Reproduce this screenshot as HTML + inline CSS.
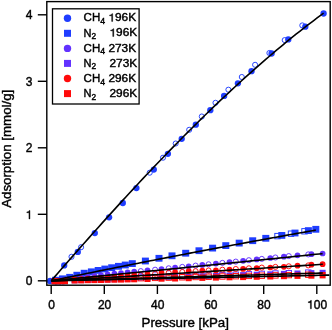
<!DOCTYPE html>
<html><head><meta charset="utf-8"><style>
html,body{margin:0;padding:0;background:#fff;width:332px;height:330px;overflow:hidden}
svg{display:block;will-change:transform}
text{font-family:'Liberation Sans',sans-serif;fill:#000;stroke:#000;stroke-width:0.4px}
</style></head><body>
<svg width="332" height="330" viewBox="0 0 332 330">
<rect x="0" y="0" width="332" height="330" fill="#fff"/>
<defs><clipPath id="pc"><rect x="47" y="2" width="282.6" height="282.6"/></clipPath></defs>
<g clip-path="url(#pc)">
<circle cx="71.5" cy="256.8" r="2.55" fill="none" stroke="#1f3dff" stroke-width="0.95"/>
<circle cx="81.1" cy="247.2" r="2.55" fill="none" stroke="#1f3dff" stroke-width="0.95"/>
<circle cx="149.7" cy="172.7" r="2.55" fill="none" stroke="#1f3dff" stroke-width="0.95"/>
<circle cx="163.0" cy="157.7" r="2.55" fill="none" stroke="#1f3dff" stroke-width="0.95"/>
<circle cx="175.7" cy="143.5" r="2.55" fill="none" stroke="#1f3dff" stroke-width="0.95"/>
<circle cx="189.2" cy="129.8" r="2.55" fill="none" stroke="#1f3dff" stroke-width="0.95"/>
<circle cx="201.8" cy="116.5" r="2.55" fill="none" stroke="#1f3dff" stroke-width="0.95"/>
<circle cx="215.5" cy="102.8" r="2.55" fill="none" stroke="#1f3dff" stroke-width="0.95"/>
<circle cx="228.4" cy="89.7" r="2.55" fill="none" stroke="#1f3dff" stroke-width="0.95"/>
<circle cx="241.8" cy="77.0" r="2.55" fill="none" stroke="#1f3dff" stroke-width="0.95"/>
<circle cx="255.1" cy="64.8" r="2.55" fill="none" stroke="#1f3dff" stroke-width="0.95"/>
<circle cx="269.4" cy="53.0" r="2.55" fill="none" stroke="#1f3dff" stroke-width="0.95"/>
<circle cx="284.7" cy="40.1" r="2.55" fill="none" stroke="#1f3dff" stroke-width="0.95"/>
<circle cx="302.3" cy="25.4" r="2.55" fill="none" stroke="#1f3dff" stroke-width="0.95"/>
<circle cx="50.0" cy="281.0" r="3.15" fill="#1f3dff"/>
<circle cx="64.2" cy="265.4" r="3.15" fill="#1f3dff"/>
<circle cx="77.8" cy="251.9" r="3.15" fill="#1f3dff"/>
<circle cx="94.8" cy="233.1" r="3.15" fill="#1f3dff"/>
<circle cx="109.1" cy="217.3" r="3.15" fill="#1f3dff"/>
<circle cx="122.8" cy="203.0" r="3.15" fill="#1f3dff"/>
<circle cx="136.4" cy="188.1" r="3.15" fill="#1f3dff"/>
<circle cx="153.8" cy="169.6" r="3.15" fill="#1f3dff"/>
<circle cx="167.9" cy="153.8" r="3.15" fill="#1f3dff"/>
<circle cx="181.7" cy="138.8" r="3.15" fill="#1f3dff"/>
<circle cx="195.8" cy="124.7" r="3.15" fill="#1f3dff"/>
<circle cx="210.3" cy="110.2" r="3.15" fill="#1f3dff"/>
<circle cx="224.1" cy="95.9" r="3.15" fill="#1f3dff"/>
<circle cx="237.9" cy="83.3" r="3.15" fill="#1f3dff"/>
<circle cx="251.5" cy="71.2" r="3.15" fill="#1f3dff"/>
<circle cx="271.6" cy="53.5" r="3.15" fill="#1f3dff"/>
<circle cx="288.3" cy="39.4" r="3.15" fill="#1f3dff"/>
<circle cx="305.3" cy="26.7" r="3.15" fill="#1f3dff"/>
<circle cx="323.6" cy="13.5" r="3.15" fill="#1f3dff"/>
<rect x="274.8" y="233.4" width="5.4" height="5.4" fill="none" stroke="#1f3dff" stroke-width="0.95"/>
<rect x="288.3" y="231.0" width="5.4" height="5.4" fill="none" stroke="#1f3dff" stroke-width="0.95"/>
<rect x="301.8" y="228.6" width="5.4" height="5.4" fill="none" stroke="#1f3dff" stroke-width="0.95"/>
<rect x="52.0" y="276.8" width="7.0" height="6.8" fill="#1f3dff"/>
<rect x="59.0" y="275.4" width="7.0" height="6.8" fill="#1f3dff"/>
<rect x="66.2" y="273.9" width="7.0" height="6.8" fill="#1f3dff"/>
<rect x="73.4" y="271.8" width="7.0" height="6.8" fill="#1f3dff"/>
<rect x="80.7" y="269.8" width="7.0" height="6.8" fill="#1f3dff"/>
<rect x="87.9" y="268.4" width="7.0" height="6.8" fill="#1f3dff"/>
<rect x="94.7" y="267.0" width="7.0" height="6.8" fill="#1f3dff"/>
<rect x="101.4" y="265.6" width="7.0" height="6.8" fill="#1f3dff"/>
<rect x="108.2" y="264.3" width="7.0" height="6.8" fill="#1f3dff"/>
<rect x="115.0" y="262.9" width="7.0" height="6.8" fill="#1f3dff"/>
<rect x="121.8" y="261.6" width="7.0" height="6.8" fill="#1f3dff"/>
<rect x="128.8" y="260.2" width="7.0" height="6.8" fill="#1f3dff"/>
<rect x="141.9" y="257.6" width="7.0" height="6.8" fill="#1f3dff"/>
<rect x="155.5" y="254.9" width="7.0" height="6.8" fill="#1f3dff"/>
<rect x="168.5" y="252.4" width="7.0" height="6.8" fill="#1f3dff"/>
<rect x="182.2" y="249.8" width="7.0" height="6.8" fill="#1f3dff"/>
<rect x="195.5" y="247.3" width="7.0" height="6.8" fill="#1f3dff"/>
<rect x="209.1" y="244.7" width="7.0" height="6.8" fill="#1f3dff"/>
<rect x="222.3" y="242.2" width="7.0" height="6.8" fill="#1f3dff"/>
<rect x="235.7" y="239.7" width="7.0" height="6.8" fill="#1f3dff"/>
<rect x="249.2" y="237.3" width="7.0" height="6.8" fill="#1f3dff"/>
<rect x="262.3" y="234.9" width="7.0" height="6.8" fill="#1f3dff"/>
<rect x="278.3" y="232.0" width="7.0" height="6.8" fill="#1f3dff"/>
<rect x="291.5" y="229.6" width="7.0" height="6.8" fill="#1f3dff"/>
<rect x="304.9" y="227.2" width="7.0" height="6.8" fill="#1f3dff"/>
<rect x="312.3" y="225.9" width="7.0" height="6.8" fill="#1f3dff"/>
<circle cx="140.8" cy="271.1" r="2.55" fill="none" stroke="#6232ff" stroke-width="0.95"/>
<circle cx="155.1" cy="269.7" r="2.55" fill="none" stroke="#6232ff" stroke-width="0.95"/>
<circle cx="168.7" cy="268.3" r="2.55" fill="none" stroke="#6232ff" stroke-width="0.95"/>
<circle cx="182.3" cy="266.9" r="2.55" fill="none" stroke="#6232ff" stroke-width="0.95"/>
<circle cx="195.6" cy="265.6" r="2.55" fill="none" stroke="#6232ff" stroke-width="0.95"/>
<circle cx="208.6" cy="264.3" r="2.55" fill="none" stroke="#6232ff" stroke-width="0.95"/>
<circle cx="222.4" cy="262.9" r="2.55" fill="none" stroke="#6232ff" stroke-width="0.95"/>
<circle cx="235.8" cy="261.6" r="2.55" fill="none" stroke="#6232ff" stroke-width="0.95"/>
<circle cx="248.9" cy="260.2" r="2.55" fill="none" stroke="#6232ff" stroke-width="0.95"/>
<circle cx="261.8" cy="258.9" r="2.55" fill="none" stroke="#6232ff" stroke-width="0.95"/>
<circle cx="275.4" cy="257.5" r="2.55" fill="none" stroke="#6232ff" stroke-width="0.95"/>
<circle cx="288.8" cy="256.1" r="2.55" fill="none" stroke="#6232ff" stroke-width="0.95"/>
<circle cx="308.3" cy="254.4" r="2.55" fill="none" stroke="#6232ff" stroke-width="0.95"/>
<circle cx="54.5" cy="280.9" r="2.85" fill="#6232ff"/>
<circle cx="58.0" cy="280.5" r="2.85" fill="#6232ff"/>
<circle cx="61.5" cy="280.1" r="2.85" fill="#6232ff"/>
<circle cx="65.0" cy="279.7" r="2.85" fill="#6232ff"/>
<circle cx="74.6" cy="278.1" r="2.85" fill="#6232ff"/>
<circle cx="81.2" cy="277.3" r="2.85" fill="#6232ff"/>
<circle cx="87.8" cy="276.6" r="2.85" fill="#6232ff"/>
<circle cx="94.4" cy="275.8" r="2.85" fill="#6232ff"/>
<circle cx="101.0" cy="275.1" r="2.85" fill="#6232ff"/>
<circle cx="107.6" cy="274.4" r="2.85" fill="#6232ff"/>
<circle cx="114.4" cy="273.7" r="2.85" fill="#6232ff"/>
<circle cx="121.0" cy="273.0" r="2.85" fill="#6232ff"/>
<circle cx="127.6" cy="272.4" r="2.85" fill="#6232ff"/>
<circle cx="134.2" cy="271.7" r="2.85" fill="#6232ff"/>
<circle cx="147.5" cy="270.4" r="2.85" fill="#6232ff"/>
<circle cx="161.5" cy="269.0" r="2.85" fill="#6232ff"/>
<circle cx="175.1" cy="267.7" r="2.85" fill="#6232ff"/>
<circle cx="188.7" cy="266.3" r="2.85" fill="#6232ff"/>
<circle cx="202.3" cy="264.9" r="2.85" fill="#6232ff"/>
<circle cx="215.9" cy="263.6" r="2.85" fill="#6232ff"/>
<circle cx="229.5" cy="262.2" r="2.85" fill="#6232ff"/>
<circle cx="243.1" cy="260.8" r="2.85" fill="#6232ff"/>
<circle cx="256.7" cy="259.4" r="2.85" fill="#6232ff"/>
<circle cx="270.3" cy="258.0" r="2.85" fill="#6232ff"/>
<circle cx="283.9" cy="256.7" r="2.85" fill="#6232ff"/>
<circle cx="297.5" cy="255.3" r="2.85" fill="#6232ff"/>
<circle cx="311.4" cy="254.2" r="2.85" fill="#6232ff"/>
<circle cx="322.6" cy="253.5" r="2.85" fill="#6232ff"/>
<rect x="138.1" y="274.7" width="5.4" height="5.4" fill="none" stroke="#6232ff" stroke-width="0.95"/>
<rect x="152.4" y="274.3" width="5.4" height="5.4" fill="none" stroke="#6232ff" stroke-width="0.95"/>
<rect x="166.0" y="273.9" width="5.4" height="5.4" fill="none" stroke="#6232ff" stroke-width="0.95"/>
<rect x="179.6" y="273.5" width="5.4" height="5.4" fill="none" stroke="#6232ff" stroke-width="0.95"/>
<rect x="192.9" y="273.1" width="5.4" height="5.4" fill="none" stroke="#6232ff" stroke-width="0.95"/>
<rect x="205.9" y="272.8" width="5.4" height="5.4" fill="none" stroke="#6232ff" stroke-width="0.95"/>
<rect x="219.7" y="272.4" width="5.4" height="5.4" fill="none" stroke="#6232ff" stroke-width="0.95"/>
<rect x="233.1" y="272.0" width="5.4" height="5.4" fill="none" stroke="#6232ff" stroke-width="0.95"/>
<rect x="246.2" y="271.6" width="5.4" height="5.4" fill="none" stroke="#6232ff" stroke-width="0.95"/>
<rect x="259.1" y="271.2" width="5.4" height="5.4" fill="none" stroke="#6232ff" stroke-width="0.95"/>
<rect x="272.7" y="270.8" width="5.4" height="5.4" fill="none" stroke="#6232ff" stroke-width="0.95"/>
<rect x="286.1" y="270.5" width="5.4" height="5.4" fill="none" stroke="#6232ff" stroke-width="0.95"/>
<rect x="305.6" y="269.9" width="5.4" height="5.4" fill="none" stroke="#6232ff" stroke-width="0.95"/>
<rect x="51.5" y="278.2" width="6.0" height="6.4" fill="#6232ff"/>
<rect x="55.0" y="278.1" width="6.0" height="6.4" fill="#6232ff"/>
<rect x="58.5" y="278.0" width="6.0" height="6.4" fill="#6232ff"/>
<rect x="62.0" y="277.9" width="6.0" height="6.4" fill="#6232ff"/>
<rect x="71.6" y="276.9" width="6.0" height="6.4" fill="#6232ff"/>
<rect x="78.2" y="276.7" width="6.0" height="6.4" fill="#6232ff"/>
<rect x="84.8" y="276.5" width="6.0" height="6.4" fill="#6232ff"/>
<rect x="91.4" y="276.4" width="6.0" height="6.4" fill="#6232ff"/>
<rect x="98.0" y="276.2" width="6.0" height="6.4" fill="#6232ff"/>
<rect x="104.6" y="276.0" width="6.0" height="6.4" fill="#6232ff"/>
<rect x="111.4" y="275.8" width="6.0" height="6.4" fill="#6232ff"/>
<rect x="118.0" y="275.6" width="6.0" height="6.4" fill="#6232ff"/>
<rect x="124.6" y="275.4" width="6.0" height="6.4" fill="#6232ff"/>
<rect x="131.2" y="275.2" width="6.0" height="6.4" fill="#6232ff"/>
<rect x="144.5" y="274.8" width="6.0" height="6.4" fill="#6232ff"/>
<rect x="158.5" y="274.4" width="6.0" height="6.4" fill="#6232ff"/>
<rect x="172.1" y="274.0" width="6.0" height="6.4" fill="#6232ff"/>
<rect x="185.7" y="273.6" width="6.0" height="6.4" fill="#6232ff"/>
<rect x="199.3" y="273.2" width="6.0" height="6.4" fill="#6232ff"/>
<rect x="212.9" y="272.9" width="6.0" height="6.4" fill="#6232ff"/>
<rect x="226.5" y="272.5" width="6.0" height="6.4" fill="#6232ff"/>
<rect x="240.1" y="272.1" width="6.0" height="6.4" fill="#6232ff"/>
<rect x="253.7" y="271.7" width="6.0" height="6.4" fill="#6232ff"/>
<rect x="267.3" y="271.3" width="6.0" height="6.4" fill="#6232ff"/>
<rect x="280.9" y="270.9" width="6.0" height="6.4" fill="#6232ff"/>
<rect x="294.5" y="270.5" width="6.0" height="6.4" fill="#6232ff"/>
<rect x="308.4" y="270.1" width="6.0" height="6.4" fill="#6232ff"/>
<rect x="319.6" y="269.8" width="6.0" height="6.4" fill="#6232ff"/>
<circle cx="140.8" cy="275.1" r="2.55" fill="none" stroke="#ff0a0a" stroke-width="0.95"/>
<circle cx="155.1" cy="273.8" r="2.55" fill="none" stroke="#ff0a0a" stroke-width="0.95"/>
<circle cx="168.7" cy="272.9" r="2.55" fill="none" stroke="#ff0a0a" stroke-width="0.95"/>
<circle cx="182.3" cy="272.0" r="2.55" fill="none" stroke="#ff0a0a" stroke-width="0.95"/>
<circle cx="195.6" cy="271.2" r="2.55" fill="none" stroke="#ff0a0a" stroke-width="0.95"/>
<circle cx="208.6" cy="270.5" r="2.55" fill="none" stroke="#ff0a0a" stroke-width="0.95"/>
<circle cx="222.4" cy="269.7" r="2.55" fill="none" stroke="#ff0a0a" stroke-width="0.95"/>
<circle cx="235.8" cy="269.0" r="2.55" fill="none" stroke="#ff0a0a" stroke-width="0.95"/>
<circle cx="248.9" cy="268.3" r="2.55" fill="none" stroke="#ff0a0a" stroke-width="0.95"/>
<circle cx="261.8" cy="267.6" r="2.55" fill="none" stroke="#ff0a0a" stroke-width="0.95"/>
<circle cx="275.4" cy="266.9" r="2.55" fill="none" stroke="#ff0a0a" stroke-width="0.95"/>
<circle cx="288.8" cy="266.3" r="2.55" fill="none" stroke="#ff0a0a" stroke-width="0.95"/>
<circle cx="308.3" cy="265.4" r="2.55" fill="none" stroke="#ff0a0a" stroke-width="0.95"/>
<circle cx="54.5" cy="281.4" r="2.85" fill="#ff0a0a"/>
<circle cx="58.0" cy="281.2" r="2.85" fill="#ff0a0a"/>
<circle cx="61.5" cy="281.0" r="2.85" fill="#ff0a0a"/>
<circle cx="65.0" cy="280.8" r="2.85" fill="#ff0a0a"/>
<circle cx="74.6" cy="279.5" r="2.85" fill="#ff0a0a"/>
<circle cx="81.2" cy="279.1" r="2.85" fill="#ff0a0a"/>
<circle cx="87.8" cy="278.7" r="2.85" fill="#ff0a0a"/>
<circle cx="94.4" cy="278.3" r="2.85" fill="#ff0a0a"/>
<circle cx="101.0" cy="277.9" r="2.85" fill="#ff0a0a"/>
<circle cx="107.6" cy="277.5" r="2.85" fill="#ff0a0a"/>
<circle cx="114.4" cy="276.9" r="2.85" fill="#ff0a0a"/>
<circle cx="121.0" cy="276.4" r="2.85" fill="#ff0a0a"/>
<circle cx="127.6" cy="275.8" r="2.85" fill="#ff0a0a"/>
<circle cx="134.2" cy="275.2" r="2.85" fill="#ff0a0a"/>
<circle cx="147.5" cy="274.0" r="2.85" fill="#ff0a0a"/>
<circle cx="161.5" cy="272.8" r="2.85" fill="#ff0a0a"/>
<circle cx="175.1" cy="272.0" r="2.85" fill="#ff0a0a"/>
<circle cx="188.7" cy="271.1" r="2.85" fill="#ff0a0a"/>
<circle cx="202.3" cy="270.6" r="2.85" fill="#ff0a0a"/>
<circle cx="215.9" cy="270.4" r="2.85" fill="#ff0a0a"/>
<circle cx="229.5" cy="269.6" r="2.85" fill="#ff0a0a"/>
<circle cx="243.1" cy="268.9" r="2.85" fill="#ff0a0a"/>
<circle cx="256.7" cy="268.2" r="2.85" fill="#ff0a0a"/>
<circle cx="270.3" cy="267.5" r="2.85" fill="#ff0a0a"/>
<circle cx="283.9" cy="266.8" r="2.85" fill="#ff0a0a"/>
<circle cx="297.5" cy="265.7" r="2.85" fill="#ff0a0a"/>
<circle cx="311.4" cy="264.7" r="2.85" fill="#ff0a0a"/>
<circle cx="322.6" cy="264.2" r="2.85" fill="#ff0a0a"/>
<rect x="138.1" y="275.5" width="5.4" height="5.4" fill="none" stroke="#ff0a0a" stroke-width="0.95"/>
<rect x="152.4" y="275.2" width="5.4" height="5.4" fill="none" stroke="#ff0a0a" stroke-width="0.95"/>
<rect x="166.0" y="274.9" width="5.4" height="5.4" fill="none" stroke="#ff0a0a" stroke-width="0.95"/>
<rect x="179.6" y="274.6" width="5.4" height="5.4" fill="none" stroke="#ff0a0a" stroke-width="0.95"/>
<rect x="192.9" y="274.3" width="5.4" height="5.4" fill="none" stroke="#ff0a0a" stroke-width="0.95"/>
<rect x="205.9" y="274.1" width="5.4" height="5.4" fill="none" stroke="#ff0a0a" stroke-width="0.95"/>
<rect x="219.7" y="273.8" width="5.4" height="5.4" fill="none" stroke="#ff0a0a" stroke-width="0.95"/>
<rect x="233.1" y="273.5" width="5.4" height="5.4" fill="none" stroke="#ff0a0a" stroke-width="0.95"/>
<rect x="246.2" y="273.2" width="5.4" height="5.4" fill="none" stroke="#ff0a0a" stroke-width="0.95"/>
<rect x="259.1" y="273.0" width="5.4" height="5.4" fill="none" stroke="#ff0a0a" stroke-width="0.95"/>
<rect x="272.7" y="272.7" width="5.4" height="5.4" fill="none" stroke="#ff0a0a" stroke-width="0.95"/>
<rect x="286.1" y="272.4" width="5.4" height="5.4" fill="none" stroke="#ff0a0a" stroke-width="0.95"/>
<rect x="305.6" y="272.0" width="5.4" height="5.4" fill="none" stroke="#ff0a0a" stroke-width="0.95"/>
<rect x="51.5" y="278.2" width="6.0" height="6.4" fill="#ff0a0a"/>
<rect x="55.0" y="278.2" width="6.0" height="6.4" fill="#ff0a0a"/>
<rect x="58.5" y="278.1" width="6.0" height="6.4" fill="#ff0a0a"/>
<rect x="62.0" y="278.0" width="6.0" height="6.4" fill="#ff0a0a"/>
<rect x="71.6" y="277.1" width="6.0" height="6.4" fill="#ff0a0a"/>
<rect x="78.2" y="277.0" width="6.0" height="6.4" fill="#ff0a0a"/>
<rect x="84.8" y="276.8" width="6.0" height="6.4" fill="#ff0a0a"/>
<rect x="91.4" y="276.7" width="6.0" height="6.4" fill="#ff0a0a"/>
<rect x="98.0" y="276.6" width="6.0" height="6.4" fill="#ff0a0a"/>
<rect x="104.6" y="276.4" width="6.0" height="6.4" fill="#ff0a0a"/>
<rect x="111.4" y="276.3" width="6.0" height="6.4" fill="#ff0a0a"/>
<rect x="118.0" y="276.2" width="6.0" height="6.4" fill="#ff0a0a"/>
<rect x="124.6" y="276.0" width="6.0" height="6.4" fill="#ff0a0a"/>
<rect x="131.2" y="275.9" width="6.0" height="6.4" fill="#ff0a0a"/>
<rect x="144.5" y="275.6" width="6.0" height="6.4" fill="#ff0a0a"/>
<rect x="158.5" y="275.3" width="6.0" height="6.4" fill="#ff0a0a"/>
<rect x="172.1" y="275.1" width="6.0" height="6.4" fill="#ff0a0a"/>
<rect x="185.7" y="274.8" width="6.0" height="6.4" fill="#ff0a0a"/>
<rect x="199.3" y="274.5" width="6.0" height="6.4" fill="#ff0a0a"/>
<rect x="212.9" y="274.2" width="6.0" height="6.4" fill="#ff0a0a"/>
<rect x="226.5" y="273.9" width="6.0" height="6.4" fill="#ff0a0a"/>
<rect x="240.1" y="273.7" width="6.0" height="6.4" fill="#ff0a0a"/>
<rect x="253.7" y="273.4" width="6.0" height="6.4" fill="#ff0a0a"/>
<rect x="267.3" y="273.1" width="6.0" height="6.4" fill="#ff0a0a"/>
<rect x="280.9" y="272.8" width="6.0" height="6.4" fill="#ff0a0a"/>
<rect x="294.5" y="272.5" width="6.0" height="6.4" fill="#ff0a0a"/>
<rect x="308.4" y="272.3" width="6.0" height="6.4" fill="#ff0a0a"/>
<rect x="319.6" y="272.0" width="6.0" height="6.4" fill="#ff0a0a"/>
<polyline points="51.20,280.80 54.61,276.87 58.01,272.96 61.42,269.05 64.82,265.15 68.23,261.25 71.63,257.37 75.04,253.50 78.44,249.64 81.85,245.78 85.25,241.94 88.66,238.11 92.06,234.28 95.47,230.47 98.87,226.67 102.28,222.89 105.68,219.11 109.09,215.34 112.49,211.59 115.90,207.85 119.30,204.12 122.71,200.41 126.11,196.71 129.52,193.02 132.92,189.35 136.33,185.69 139.73,182.04 143.14,178.41 146.54,174.79 149.95,171.19 153.35,167.61 156.76,164.03 160.16,160.48 163.57,156.94 166.97,153.42 170.38,149.91 173.78,146.42 177.19,142.95 180.59,139.49 184.00,136.05 187.40,132.63 190.81,129.23 194.21,125.84 197.62,122.48 201.02,119.13 204.43,115.80 207.83,112.49 211.24,109.20 214.64,105.93 218.05,102.68 221.45,99.45 224.86,96.24 228.26,93.05 231.67,89.88 235.07,86.74 238.48,83.61 241.88,80.51 245.29,77.43 248.69,74.37 252.10,71.33 255.50,68.31 258.91,65.32 262.31,62.35 265.72,59.41 269.12,56.49 272.53,53.59 275.93,50.71 279.34,47.87 282.74,45.04 286.15,42.24 289.55,39.47 292.96,36.72 296.36,33.99 299.77,31.30 303.17,28.62 306.58,25.98 309.98,23.36 313.39,20.77 316.79,18.21 320.20,15.67 323.60,13.16" fill="none" stroke="#000" stroke-width="1.6" stroke-linejoin="round"/>
<polyline points="51.20,280.80 54.51,280.11 57.82,279.43 61.12,278.74 64.43,278.06 67.74,277.38 71.05,276.70 74.35,276.02 77.66,275.35 80.97,274.67 84.28,274.00 87.58,273.33 90.89,272.66 94.20,271.99 97.51,271.32 100.81,270.65 104.12,269.99 107.43,269.32 110.73,268.66 114.04,268.00 117.35,267.34 120.66,266.68 123.97,266.02 127.27,265.37 130.58,264.71 133.89,264.06 137.19,263.41 140.50,262.76 143.81,262.11 147.12,261.46 150.43,260.81 153.73,260.17 157.04,259.52 160.35,258.88 163.66,258.24 166.96,257.60 170.27,256.96 173.58,256.32 176.89,255.69 180.19,255.05 183.50,254.42 186.81,253.79 190.12,253.16 193.42,252.53 196.73,251.90 200.04,251.27 203.34,250.65 206.65,250.02 209.96,249.40 213.27,248.78 216.58,248.15 219.88,247.54 223.19,246.92 226.50,246.30 229.81,245.68 233.11,245.07 236.42,244.46 239.73,243.84 243.04,243.23 246.34,242.62 249.65,242.01 252.96,241.41 256.26,240.80 259.57,240.20 262.88,239.59 266.19,238.99 269.50,238.39 272.80,237.79 276.11,237.19 279.42,236.59 282.73,235.99 286.03,235.40 289.34,234.80 292.65,234.21 295.95,233.62 299.26,233.03 302.57,232.44 305.88,231.85 309.19,231.26 312.49,230.68 315.80,230.09" fill="none" stroke="#000" stroke-width="1.6" stroke-linejoin="round"/>
<polyline points="51.20,280.80 54.59,280.47 57.99,280.14 61.38,279.81 64.77,279.48 68.16,279.15 71.56,278.82 74.95,278.49 78.34,278.16 81.73,277.82 85.12,277.49 88.52,277.16 91.91,276.83 95.30,276.49 98.70,276.16 102.09,275.83 105.48,275.49 108.87,275.16 112.27,274.83 115.66,274.49 119.05,274.16 122.44,273.82 125.84,273.49 129.23,273.15 132.62,272.82 136.01,272.48 139.41,272.14 142.80,271.81 146.19,271.47 149.58,271.13 152.98,270.80 156.37,270.46 159.76,270.12 163.15,269.78 166.55,269.44 169.94,269.11 173.33,268.77 176.72,268.43 180.12,268.09 183.51,267.75 186.90,267.41 190.29,267.07 193.69,266.73 197.08,266.39 200.47,266.05 203.86,265.71 207.26,265.36 210.65,265.02 214.04,264.68 217.43,264.34 220.83,264.00 224.22,263.65 227.61,263.31 231.00,262.97 234.40,262.62 237.79,262.28 241.18,261.94 244.57,261.59 247.97,261.25 251.36,260.90 254.75,260.56 258.14,260.21 261.54,259.87 264.93,259.52 268.32,259.17 271.71,258.83 275.11,258.48 278.50,258.13 281.89,257.79 285.28,257.44 288.68,257.09 292.07,256.74 295.46,256.40 298.85,256.05 302.25,255.70 305.64,255.35 309.03,255.00 312.42,254.65 315.82,254.30 319.21,253.95 322.60,253.60" fill="none" stroke="#000" stroke-width="1.6" stroke-linejoin="round"/>
<polyline points="51.20,280.80 54.60,280.61 57.99,280.42 61.39,280.22 64.78,280.03 68.18,279.84 71.57,279.64 74.97,279.45 78.36,279.25 81.76,279.06 85.15,278.86 88.55,278.67 91.94,278.47 95.34,278.27 98.73,278.08 102.12,277.88 105.52,277.68 108.91,277.48 112.31,277.29 115.71,277.09 119.10,276.89 122.50,276.69 125.89,276.49 129.29,276.29 132.68,276.09 136.08,275.89 139.47,275.69 142.87,275.49 146.26,275.28 149.66,275.08 153.05,274.88 156.44,274.68 159.84,274.47 163.24,274.27 166.63,274.07 170.03,273.86 173.42,273.66 176.81,273.45 180.21,273.25 183.61,273.04 187.00,272.83 190.40,272.63 193.79,272.42 197.19,272.21 200.58,272.01 203.98,271.80 207.37,271.59 210.77,271.38 214.16,271.17 217.56,270.96 220.95,270.75 224.35,270.54 227.74,270.33 231.14,270.12 234.53,269.91 237.93,269.70 241.32,269.49 244.72,269.28 248.11,269.07 251.51,268.85 254.90,268.64 258.30,268.43 261.69,268.21 265.09,268.00 268.48,267.78 271.88,267.57 275.27,267.35 278.67,267.14 282.06,266.92 285.46,266.70 288.85,266.49 292.25,266.27 295.64,266.05 299.04,265.84 302.43,265.62 305.82,265.40 309.22,265.18 312.62,264.96 316.01,264.74 319.41,264.52 322.80,264.30" fill="none" stroke="#000" stroke-width="1.6" stroke-linejoin="round"/>
<polyline points="51.20,280.80 54.60,280.70 57.99,280.60 61.39,280.51 64.78,280.41 68.18,280.31 71.57,280.21 74.97,280.12 78.36,280.02 81.76,279.92 85.15,279.82 88.55,279.72 91.94,279.63 95.34,279.53 98.73,279.43 102.12,279.33 105.52,279.24 108.91,279.14 112.31,279.04 115.71,278.94 119.10,278.84 122.50,278.75 125.89,278.65 129.29,278.55 132.68,278.45 136.08,278.36 139.47,278.26 142.87,278.16 146.26,278.06 149.66,277.97 153.05,277.87 156.44,277.77 159.84,277.67 163.24,277.57 166.63,277.48 170.03,277.38 173.42,277.28 176.81,277.18 180.21,277.09 183.61,276.99 187.00,276.89 190.40,276.79 193.79,276.69 197.19,276.60 200.58,276.50 203.98,276.40 207.37,276.30 210.77,276.21 214.16,276.11 217.56,276.01 220.95,275.91 224.35,275.81 227.74,275.72 231.14,275.62 234.53,275.52 237.93,275.42 241.32,275.33 244.72,275.23 248.11,275.13 251.51,275.03 254.90,274.93 258.30,274.84 261.69,274.74 265.09,274.64 268.48,274.54 271.88,274.45 275.27,274.35 278.67,274.25 282.06,274.15 285.46,274.06 288.85,273.96 292.25,273.86 295.64,273.76 299.04,273.66 302.43,273.57 305.82,273.47 309.22,273.37 312.62,273.27 316.01,273.18 319.41,273.08 322.80,272.98" fill="none" stroke="#000" stroke-width="1.6" stroke-linejoin="round"/>
<polyline points="51.20,280.80 54.68,280.73 58.16,280.66 61.64,280.59 65.12,280.51 68.60,280.44 72.08,280.37 75.56,280.30 79.04,280.23 82.52,280.16 86.00,280.09 89.48,280.01 92.96,279.94 96.44,279.87 99.92,279.80 103.40,279.73 106.88,279.66 110.36,279.59 113.84,279.51 117.32,279.44 120.80,279.37 124.28,279.30 127.76,279.23 131.24,279.16 134.72,279.09 138.20,279.01 141.68,278.94 145.16,278.87 148.64,278.80 152.12,278.73 155.60,278.66 159.08,278.59 162.56,278.51 166.04,278.44 169.52,278.37 173.00,278.30 176.48,278.23 179.96,278.16 183.44,278.08 186.92,278.01 190.40,277.94 193.88,277.87 197.36,277.80 200.84,277.73 204.32,277.66 207.80,277.58 211.28,277.51 214.76,277.44 218.24,277.37 221.72,277.30 225.20,277.23 228.68,277.16 232.16,277.08 235.64,277.01 239.12,276.94 242.60,276.87 246.08,276.80 249.56,276.73 253.04,276.66 256.52,276.58 260.00,276.51 263.48,276.44 266.96,276.37 270.44,276.30 273.92,276.23 277.40,276.16 280.88,276.08 284.36,276.01 287.84,275.94 291.32,275.87 294.80,275.80 298.28,275.73 301.76,275.66 305.24,275.58 308.72,275.51 312.20,275.44 315.68,275.37 319.16,275.30 322.64,275.23 326.12,275.16 329.60,275.08" fill="none" stroke="#000" stroke-width="1.6" stroke-linejoin="round"/>
</g>
<rect x="46.8" y="1.6" width="283.4" height="283.6" fill="none" stroke="#000" stroke-width="1.4"/>
<line x1="37.8" y1="280.8" x2="46.8" y2="280.8" stroke="#000" stroke-width="1.4"/>
<text x="25.63" y="285.40" font-size="12">0</text>
<line x1="37.8" y1="214.3" x2="46.8" y2="214.3" stroke="#000" stroke-width="1.4"/>
<path transform="translate(25.63,218.90) scale(0.01200,-0.01200)" d="M276,0 L359,0 L359,703 L297,703 C285,650 240,592 101,584 L101,514 L276,514 Z" fill="#000" stroke="#000" stroke-width="33.3"/>
<line x1="37.8" y1="147.8" x2="46.8" y2="147.8" stroke="#000" stroke-width="1.4"/>
<text x="25.63" y="152.40" font-size="12">2</text>
<line x1="37.8" y1="81.3" x2="46.8" y2="81.3" stroke="#000" stroke-width="1.4"/>
<text x="25.63" y="85.90" font-size="12">3</text>
<line x1="37.8" y1="14.8" x2="46.8" y2="14.8" stroke="#000" stroke-width="1.4"/>
<text x="25.63" y="19.40" font-size="12">4</text>
<line x1="51.2" y1="285.2" x2="51.2" y2="294" stroke="#000" stroke-width="1.4"/>
<text x="48.16" y="308.80" font-size="12">0</text>
<line x1="104.3" y1="285.2" x2="104.3" y2="294" stroke="#000" stroke-width="1.4"/>
<text x="97.95" y="308.80" font-size="12">20</text>
<line x1="157.4" y1="285.2" x2="157.4" y2="294" stroke="#000" stroke-width="1.4"/>
<text x="151.07" y="308.80" font-size="12">40</text>
<line x1="210.6" y1="285.2" x2="210.6" y2="294" stroke="#000" stroke-width="1.4"/>
<text x="204.19" y="308.80" font-size="12">60</text>
<line x1="263.7" y1="285.2" x2="263.7" y2="294" stroke="#000" stroke-width="1.4"/>
<text x="257.31" y="308.80" font-size="12">80</text>
<line x1="316.8" y1="285.2" x2="316.8" y2="294" stroke="#000" stroke-width="1.4"/>
<path transform="translate(307.09,308.80) scale(0.01200,-0.01200)" d="M276,0 L359,0 L359,703 L297,703 C285,650 240,592 101,584 L101,514 L276,514 Z" fill="#000" stroke="#000" stroke-width="33.3"/><text x="313.76" y="308.80" font-size="12">00</text>
<text transform="translate(185.2,327.4) scale(1.05,1)" x="0" y="0" font-size="12.7" text-anchor="middle">Pressure [kPa]</text>
<text transform="translate(10.9,148.8) rotate(-90) scale(1.09,1)" x="0" y="0" font-size="12.2" text-anchor="middle">Adsorption [mmol/g]</text>
<rect x="52.5" y="8.8" width="86.6" height="95.2" fill="#fff" stroke="#000" stroke-width="1.3"/>
<circle cx="67.5" cy="18.2" r="3.7" fill="#1f3dff"/><text transform="translate(83.6,21.4) scale(1.05,1)" x="0" y="0" font-size="11">CH<tspan font-size="8.3" dy="2.8">4</tspan></text><path transform="translate(108.40,21.40) scale(0.01188,-0.01100)" d="M276,0 L359,0 L359,703 L297,703 C285,650 240,592 101,584 L101,514 L276,514 Z" fill="#000" stroke="#000" stroke-width="36.4"/><text transform="translate(115.01,21.40) scale(1.08,1)" x="0" y="0" font-size="11">96K</text>
<rect x="64.0" y="29.8" width="7" height="7" fill="#1f3dff"/><text transform="translate(83.6,36.5) scale(1.0,1)" x="0" y="0" font-size="11">N<tspan font-size="8.3" dy="2.8">2</tspan></text><path transform="translate(109.50,36.48) scale(0.01188,-0.01100)" d="M276,0 L359,0 L359,703 L297,703 C285,650 240,592 101,584 L101,514 L276,514 Z" fill="#000" stroke="#000" stroke-width="36.4"/><text transform="translate(116.11,36.48) scale(1.08,1)" x="0" y="0" font-size="11">96K</text>
<circle cx="67.5" cy="48.4" r="3.7" fill="#6232ff"/><text transform="translate(83.6,51.6) scale(1.05,1)" x="0" y="0" font-size="11">CH<tspan font-size="8.3" dy="2.8">4</tspan></text><text transform="translate(108.40,51.56) scale(1.08,1)" x="0" y="0" font-size="11">273K</text>
<rect x="64.0" y="59.9" width="7" height="7" fill="#6232ff"/><text transform="translate(83.6,66.6) scale(1.0,1)" x="0" y="0" font-size="11">N<tspan font-size="8.3" dy="2.8">2</tspan></text><text transform="translate(109.50,66.64) scale(1.08,1)" x="0" y="0" font-size="11">273K</text>
<circle cx="67.5" cy="78.5" r="3.7" fill="#ff0a0a"/><text transform="translate(83.6,81.7) scale(1.05,1)" x="0" y="0" font-size="11">CH<tspan font-size="8.3" dy="2.8">4</tspan></text><text transform="translate(108.40,81.72) scale(1.08,1)" x="0" y="0" font-size="11">296K</text>
<rect x="64.0" y="90.1" width="7" height="7" fill="#ff0a0a"/><text transform="translate(83.6,96.8) scale(1.0,1)" x="0" y="0" font-size="11">N<tspan font-size="8.3" dy="2.8">2</tspan></text><text transform="translate(109.50,96.80) scale(1.08,1)" x="0" y="0" font-size="11">296K</text>
</svg></body></html>
